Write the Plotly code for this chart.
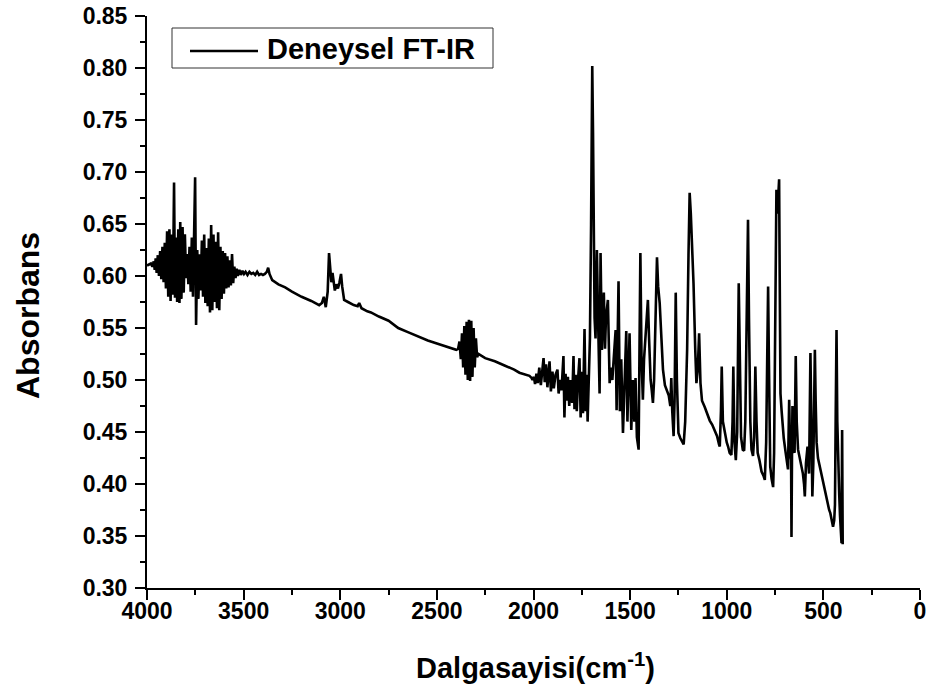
import plotly.graph_objects as go

# ---- data (wavenumber cm-1, absorbance) ----
wn_oh = [4000, 3990, 3980, 3972, 3965, 3960, 3955, 3950, 3944, 3938, 3932, 3926, 3920, 3914, 3908, 3902,
         3896, 3890, 3884, 3878, 3872, 3866, 3860, 3855, 3850, 3844, 3838, 3832, 3828, 3822, 3816, 3810,
         3804, 3798, 3792, 3786, 3780, 3774, 3768, 3762, 3756, 3751, 3746, 3740, 3734, 3728, 3722, 3716,
         3710, 3704, 3698, 3692, 3686, 3680, 3674, 3668, 3662, 3656, 3650, 3644, 3638, 3632, 3626, 3620,
         3614, 3608, 3602, 3596, 3590, 3584, 3578, 3572, 3566, 3560, 3554, 3548, 3542, 3536, 3530, 3522,
         3514, 3506, 3498, 3490, 3480, 3470, 3460, 3450, 3440, 3430, 3420, 3410, 3400]
ab_oh = [0.610, 0.611, 0.612, 0.609, 0.614, 0.606, 0.617, 0.603, 0.620, 0.600, 0.624, 0.597, 0.628, 0.594, 0.632, 0.588,
         0.643, 0.580, 0.645, 0.576, 0.640, 0.582, 0.690, 0.579, 0.637, 0.575, 0.645, 0.574, 0.652, 0.578, 0.647, 0.584,
         0.640, 0.598, 0.621, 0.592, 0.628, 0.585, 0.637, 0.580, 0.630, 0.695, 0.553, 0.625, 0.578, 0.621, 0.586, 0.634,
         0.580, 0.640, 0.574, 0.627, 0.571, 0.636, 0.565, 0.649, 0.567, 0.640, 0.575, 0.633, 0.569, 0.642, 0.567, 0.628,
         0.578, 0.624, 0.583, 0.622, 0.588, 0.619, 0.589, 0.615, 0.591, 0.621, 0.593, 0.609, 0.598, 0.607, 0.600, 0.606,
         0.601, 0.605, 0.602, 0.604, 0.601, 0.604, 0.602, 0.603, 0.601, 0.604, 0.601, 0.602, 0.601]

wn_ch = [3390, 3380, 3373, 3366, 3352, 3320, 3285, 3250, 3200, 3150, 3109, 3095, 3085, 3075, 3065, 3058,
         3052, 3046, 3040, 3034, 3028, 3020, 3012, 3004, 2996, 2990, 2980, 2960, 2930, 2910, 2902, 2890,
         2860, 2841, 2800, 2750, 2700, 2650, 2600, 2547, 2500, 2450, 2400, 2390, 2383, 2376, 2370, 2364,
         2358, 2352, 2346, 2340, 2334, 2328, 2322, 2316, 2310, 2304, 2298, 2292, 2285, 2250, 2200, 2150,
         2100, 2073, 2040, 2021, 2010]
ab_ch = [0.602, 0.604, 0.608, 0.602, 0.596, 0.592, 0.589, 0.585, 0.580, 0.576, 0.572, 0.574, 0.580, 0.570, 0.585, 0.622,
         0.610, 0.594, 0.603, 0.596, 0.586, 0.592, 0.588, 0.594, 0.602, 0.590, 0.577, 0.575, 0.572, 0.571, 0.574, 0.569,
         0.566, 0.565, 0.561, 0.557, 0.550, 0.546, 0.542, 0.538, 0.535, 0.532, 0.529, 0.530, 0.537, 0.520, 0.545, 0.512,
         0.552, 0.505, 0.556, 0.500, 0.558, 0.499, 0.557, 0.503, 0.550, 0.512, 0.540, 0.522, 0.525, 0.521, 0.518, 0.514,
         0.510, 0.507, 0.505, 0.504, 0.502]

wn_co = [2005, 1998, 1992, 1985, 1978, 1970, 1962, 1955, 1948, 1942, 1935, 1928, 1917, 1910, 1902, 1895,
         1886, 1876, 1870, 1862, 1855, 1845, 1840, 1834, 1828, 1822, 1815, 1808, 1800, 1793, 1788, 1782,
         1776, 1770, 1762, 1756, 1750, 1744, 1736, 1730, 1724, 1720, 1714, 1708, 1702, 1696, 1692, 1688,
         1684, 1679, 1672, 1666, 1658, 1653, 1646, 1641, 1636, 1630, 1625, 1615, 1606, 1600, 1592, 1585,
         1575, 1570, 1560, 1553, 1546, 1537, 1530, 1520, 1514, 1508, 1503, 1494, 1486, 1478, 1472, 1465,
         1456, 1452, 1447, 1441, 1434, 1428, 1420, 1414, 1408, 1402, 1394, 1388, 1382, 1376, 1370, 1361,
         1355, 1347, 1338, 1330, 1320, 1313, 1300, 1292, 1287, 1282, 1275, 1270, 1264, 1258, 1250, 1240,
         1230, 1223, 1215, 1205, 1198, 1192, 1186, 1178, 1172, 1163, 1157, 1150, 1143, 1136, 1128, 1114,
         1100, 1088, 1075, 1062, 1050, 1040, 1036, 1030, 1026, 1020, 1010, 1000]
ab_co = [0.500, 0.503, 0.496, 0.506, 0.497, 0.512, 0.495, 0.508, 0.521, 0.498, 0.515, 0.493, 0.518, 0.489, 0.508, 0.492,
         0.505, 0.510, 0.487, 0.500, 0.490, 0.523, 0.464, 0.506, 0.480, 0.503, 0.475, 0.500, 0.478, 0.523, 0.472, 0.505,
         0.470, 0.499, 0.521, 0.464, 0.508, 0.468, 0.549, 0.470, 0.505, 0.460, 0.500, 0.540, 0.650, 0.802, 0.738, 0.640,
         0.560, 0.540, 0.625, 0.560, 0.487, 0.622, 0.529, 0.560, 0.584, 0.530, 0.560, 0.577, 0.497, 0.512, 0.500, 0.520,
         0.548, 0.471, 0.595, 0.470, 0.520, 0.449, 0.500, 0.547, 0.460, 0.520, 0.545, 0.452, 0.500, 0.460, 0.502, 0.445,
         0.433, 0.520, 0.622, 0.520, 0.481, 0.520, 0.545, 0.560, 0.577, 0.540, 0.500, 0.490, 0.478, 0.500, 0.560, 0.618,
         0.590, 0.574, 0.540, 0.510, 0.495, 0.491, 0.485, 0.475, 0.502, 0.470, 0.446, 0.480, 0.584, 0.500, 0.449, 0.444,
         0.440, 0.438, 0.460, 0.529, 0.620, 0.680, 0.660, 0.622, 0.593, 0.529, 0.497, 0.510, 0.545, 0.497, 0.480, 0.474,
         0.467, 0.461, 0.457, 0.452, 0.446, 0.438, 0.436, 0.470, 0.513, 0.460, 0.449, 0.440]

wn_fp = [993, 985, 976, 970, 966, 960, 953, 946, 938, 932, 926, 917, 910, 904, 896, 890,
         885, 878, 872, 864, 858, 852, 846, 840, 831, 820, 810, 803, 796, 790, 786, 782,
         775, 768, 760, 755, 751, 746, 743, 738, 734, 729, 726, 722, 716, 710, 705, 695,
         688, 683, 677, 672, 667, 665, 662, 660, 655, 649, 643, 638, 631, 622, 614, 606,
         600, 596, 590, 582, 578, 574, 567, 561, 557, 552, 548, 544, 540, 535, 528, 519,
         510, 502, 495, 488, 482, 476, 470, 464, 458, 450, 444, 440, 436, 432, 428, 424,
         418, 414, 410, 406, 403, 400]
ab_fp = [0.436, 0.430, 0.428, 0.460, 0.513, 0.440, 0.423, 0.450, 0.593, 0.500, 0.445, 0.433, 0.432, 0.460, 0.560, 0.654,
         0.560, 0.460, 0.433, 0.427, 0.445, 0.513, 0.460, 0.430, 0.423, 0.412, 0.408, 0.404, 0.440, 0.540, 0.590, 0.520,
         0.417, 0.405, 0.397, 0.430, 0.520, 0.620, 0.683, 0.660, 0.680, 0.693, 0.600, 0.487, 0.470, 0.455, 0.444, 0.430,
         0.418, 0.414, 0.481, 0.430, 0.423, 0.349, 0.440, 0.475, 0.433, 0.430, 0.523, 0.460, 0.433, 0.425, 0.417, 0.410,
         0.400, 0.388, 0.420, 0.436, 0.420, 0.410, 0.526, 0.440, 0.388, 0.420, 0.480, 0.529, 0.480, 0.440, 0.425, 0.417,
         0.410, 0.400, 0.395, 0.390, 0.385, 0.378, 0.375, 0.372, 0.366, 0.359, 0.365, 0.380, 0.470, 0.548, 0.460, 0.423,
         0.390, 0.370, 0.356, 0.343, 0.452, 0.342]

x_ticks = [4000, 3500, 3000, 2500, 2000, 1500, 1000, 500, 0]
y_ticks = [0.30, 0.35, 0.40, 0.45, 0.50, 0.55, 0.60, 0.65, 0.70, 0.75, 0.80, 0.85]

series_name = "Deneysel FT-IR"
x_title = "Dalgasayisi(cm<sup>-1</sup>)"
y_title = "Absorbans"

wavenumber = wn_oh + wn_ch + wn_co + wn_fp
absorbance = ab_oh + ab_ch + ab_co + ab_fp

FONT = "Liberation Sans, Arial, sans-serif"

fig = go.Figure()
fig.add_trace(go.Scatter(x=wavenumber, y=absorbance, mode="lines", name=series_name,
                         line=dict(color="black", width=2.6), showlegend=False))

axis_common = dict(
    showline=True, linecolor="black", linewidth=2, mirror=False,
    ticks="outside", ticklen=10, tickwidth=2, tickcolor="black",
    showgrid=False, zeroline=False, automargin=False,
    tickfont=dict(family=FONT, size=23, color="black", weight="bold"),
)

fig.update_xaxes(range=[4000, 0], tickvals=x_ticks, ticktext=[str(v) for v in x_ticks],
                 ticklabelstandoff=-9,
                 minor=dict(ticks="outside", ticklen=5, tickwidth=2, tickcolor="black", dtick=250, tick0=0),
                 **axis_common)
fig.update_yaxes(range=[0.30, 0.85], tickvals=y_ticks, ticktext=[f"{v:.2f}" for v in y_ticks],
                 ticklabelstandoff=3,
                 minor=dict(ticks="outside", ticklen=5, tickwidth=2, tickcolor="black", dtick=0.025, tick0=0.3),
                 **axis_common)

W, H = 931, 695
L, R, T, B = 147, 11, 16, 107
pw, ph = W - L - R, H - T - B

def px(xp):
    return (xp - L) / pw

def py(yp):
    return (H - B - yp) / ph

# legend box drawn to match the reference look
fig.add_shape(type="rect", xref="paper", yref="paper", x0=px(172), x1=px(493), y0=py(68), y1=py(28),
              line=dict(color="#333333", width=1), fillcolor="white")
fig.add_shape(type="line", xref="paper", yref="paper", x0=px(190), x1=px(258), y0=py(51), y1=py(51),
              line=dict(color="black", width=2.4))
fig.add_annotation(xref="paper", yref="paper", x=px(265), y=py(49), xanchor="left", yanchor="middle",
                   text=series_name, showarrow=False,
                   font=dict(family=FONT, size=29, color="black", weight="bold"))

# axis titles
fig.add_annotation(xref="paper", yref="paper", x=px(535), y=py(666), xanchor="center", yanchor="middle",
                   text=x_title, showarrow=False,
                   font=dict(family=FONT, size=29, color="black", weight="bold"))
fig.add_annotation(xref="paper", yref="paper", x=px(28), y=py(316), xanchor="center", yanchor="middle",
                   text=y_title, showarrow=False, textangle=-90,
                   font=dict(family=FONT, size=32, color="black", weight="bold"))

fig.update_layout(width=W, height=H, margin=dict(l=L, r=R, t=T, b=B),
                  paper_bgcolor="white", plot_bgcolor="white", showlegend=False)

# remove the default page margin so the figure sits at the window origin
fig.write_html("out.html", config={"displayModeBar": False},
               post_script="document.body.style.margin='0';document.body.style.overflow='hidden';")
